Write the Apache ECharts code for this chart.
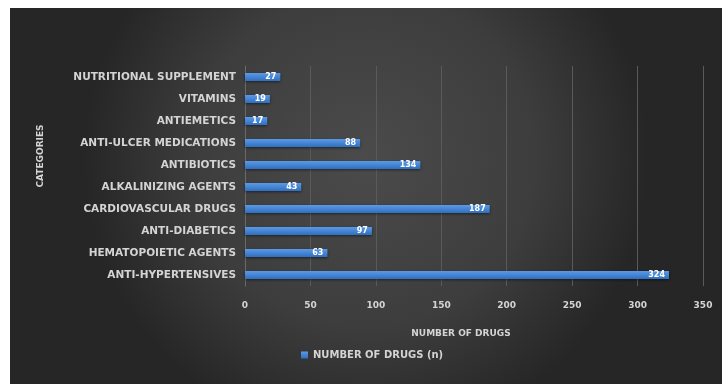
<!DOCTYPE html>
<html>
<head>
<meta charset="utf-8">
<script src="https://cdn.jsdelivr.net/npm/echarts@6/dist/echarts.min.js"></script>
<style>
  html, body { margin: 0; padding: 0; background: #ffffff; }
  #chart { width: 724px; height: 390px; }
</style>
</head>
<body>
<div id="chart"></div>
<script>
// Drug categories, listed bottom-to-top as the category axis draws them
const categories = [
  'ANTI-HYPERTENSIVES',
  'HEMATOPOIETIC AGENTS',
  'ANTI-DIABETICS',
  'CARDIOVASCULAR DRUGS',
  'ALKALINIZING AGENTS',
  'ANTIBIOTICS',
  'ANTI-ULCER MEDICATIONS',
  'ANTIEMETICS',
  'VITAMINS',
  'NUTRITIONAL SUPPLEMENT'
];
// Number of drugs per category
const drugCounts = [324, 63, 97, 187, 43, 134, 88, 17, 19, 27];
const xTicks = [0, 50, 100, 150, 200, 250, 300, 350];

const chart = echarts.init(document.getElementById('chart'));
const labelFont = { color: '#d4d4d4', fontFamily: 'DejaVu Sans', fontWeight: 'bold' };

chart.setOption({
  animation: false,
  graphic: [{
    type: 'rect',
    z: -10,
    silent: true,
    shape: { x: 10, y: 8, width: 712, height: 376 },
    style: {
      fill: {
        type: 'radial', x: 0.5, y: 0.4, r: 0.75,
        colorStops: [
          { offset: 0, color: '#4b4b4b' },
          { offset: 0.6, color: '#3d3d3d' },
          { offset: 1, color: '#262626' }
        ]
      }
    }
  }],
  legend: {
    top: 345,
    left: 296,
    itemWidth: 7,
    itemHeight: 7,
    itemGap: 6,
    icon: 'rect',
    textStyle: { ...labelFont, fontSize: 10 },
    data: ['NUMBER OF DRUGS (n)']
  },
  grid: { left: 245, right: 21, top: 66, bottom: 104, containLabel: false },
  xAxis: {
    type: 'value',
    min: 0,
    max: 350,
    interval: 50,
    name: 'NUMBER OF DRUGS',
    nameLocation: 'middle',
    nameGap: 43,
    nameTextStyle: { ...labelFont, fontSize: 9, padding: [0, 26, 0, 0] },
    axisLine: { show: false },
    axisTick: { show: false },
    axisLabel: {
      ...labelFont, fontSize: 9, margin: 15,
      formatter: v => (xTicks.includes(v) ? String(v) : '')
    },
    splitLine: { show: true, lineStyle: { color: '#5a5a5a', width: 1 } }
  },
  yAxis: {
    type: 'category',
    data: categories,
    name: 'CATEGORIES',
    nameLocation: 'middle',
    nameGap: 200,
    nameRotate: 90,
    nameTextStyle: { ...labelFont, fontSize: 9, padding: [0, 0, 0, 40] },
    axisLine: { show: true, lineStyle: { color: '#6a6a6a' } },
    axisTick: { show: false },
    axisLabel: { ...labelFont, fontSize: 10.5, margin: 9 }
  },
  series: [{
    name: 'NUMBER OF DRUGS (n)',
    type: 'bar',
    data: drugCounts,
    barWidth: 8,
    itemStyle: {
      color: {
        type: 'linear', x: 0, y: 0, x2: 0, y2: 1,
        colorStops: [
          { offset: 0, color: '#5b9ae6' },
          { offset: 1, color: '#2f6fc0' }
        ]
      },
      shadowColor: 'rgba(0,0,0,0.5)',
      shadowBlur: 3,
      shadowOffsetY: 1
    },
    label: {
      show: true,
      position: 'insideRight',
      distance: 4,
      color: '#ffffff',
      fontSize: 8,
      fontFamily: 'DejaVu Sans',
      fontWeight: 'bold'
    }
  }]
});
</script>
</body>
</html>
